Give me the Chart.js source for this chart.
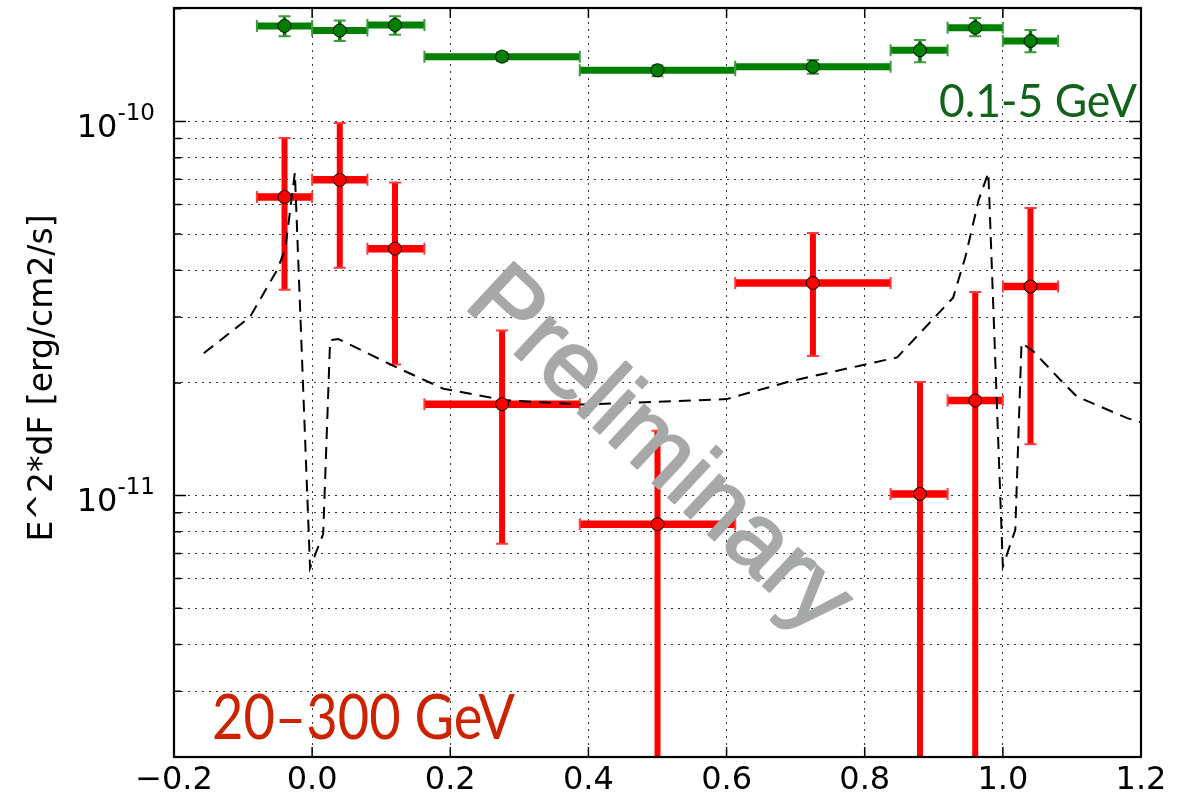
<!DOCTYPE html>
<html>
<head>
<meta charset="utf-8">
<title>Orbital light curve</title>
<script src="https://cdn.jsdelivr.net/npm/chart.js@4.4.1/dist/chart.umd.min.js"></script>
<style>
  html, body { margin: 0; padding: 0; background: #fff; }
  canvas { display: block; }
</style>
</head>
<body>
<canvas id="lc" width="1179" height="803"></canvas>
<script>
// orbital phase bins (centre and edges)
var phase   = [-0.04, 0.04, 0.12, 0.275, 0.5, 0.725, 0.88, 0.96, 1.04];
var phaseLo = [-0.08, 0.0, 0.08, 0.1625, 0.3875, 0.6125, 0.8375, 0.92, 1.0];
var phaseHi = [0.0, 0.08, 0.1625, 0.3875, 0.6125, 0.8375, 0.92, 1.0, 1.08];

// 0.1-5 GeV flux, E^2 dF/dE in erg/cm2/s
var lowE   = [1.80e-10, 1.75e-10, 1.81e-10, 1.49e-10, 1.37e-10, 1.40e-10, 1.55e-10, 1.78e-10, 1.64e-10];
var lowEHi = [1.91e-10, 1.86e-10, 1.91e-10, 1.53e-10, 1.41e-10, 1.46e-10, 1.65e-10, 1.89e-10, 1.755e-10];
var lowELo = [1.69e-10, 1.64e-10, 1.705e-10, 1.45e-10, 1.32e-10, 1.34e-10, 1.44e-10, 1.69e-10, 1.53e-10];

// 20-300 GeV flux (lower bounds of 1e-13 run off the bottom of the plot)
var highE   = [6.28e-11, 6.98e-11, 4.57e-11, 1.755e-11, 8.38e-12, 3.70e-11, 1.01e-11, 1.795e-11, 3.62e-11];
var highEHi = [9.03e-11, 9.9e-11, 6.87e-11, 2.76e-11, 1.49e-11, 5.03e-11, 2.01e-11, 3.50e-11, 5.87e-11];
var highELo = [3.55e-11, 4.06e-11, 2.24e-11, 7.43e-12, 1e-13, 2.36e-11, 1e-13, 1e-13, 1.37e-11];

// model curve
var modelPhase = [-0.157, -0.09, -0.051, -0.039, -0.025, -0.003, 0.016, 0.026, 0.038, 0.12, 0.19, 0.277,
                  0.388, 0.5, 0.6, 0.692, 0.847, 0.928, 0.946, 0.965, 0.979, 1.0, 1.018, 1.027, 1.044,
                  1.083, 1.107, 1.18, 1.2];
var modelFlux  = [2.40e-11, 3.0e-11, 4.0e-11, 4.55e-11, 7.3e-11, 6.4e-12, 7.9e-12, 2.6e-11, 2.62e-11, 2.21e-11, 1.93e-11, 1.80e-11,
                  1.75e-11, 1.78e-11, 1.81e-11, 2.02e-11, 2.34e-11, 3.38e-11, 4.36e-11, 6.17e-11, 7.3e-11, 6.46e-12, 8.1e-12, 2.56e-11, 2.43e-11,
                  2.04e-11, 1.84e-11, 1.61e-11, 1.57e-11];

var yMin = 2.0e-12, yMax = 2.01e-10;
var yGrid = [2e-12, 3e-12, 4e-12, 5e-12, 6e-12, 7e-12, 8e-12, 9e-12,
             1e-11, 2e-11, 3e-11, 4e-11, 5e-11, 6e-11, 7e-11, 8e-11, 9e-11, 1e-10, 2e-10];
var yDecades = [-11, -10];
var xTicks = [-0.2, 0.0, 0.2, 0.4, 0.6, 0.8, 1.0, 1.2];

function pts(xs, ys) {
  return xs.map(function (v, i) { return { x: v, y: ys[i] }; });
}

function drawErrors(ctx, xs, ys, f, lo, hi, st) {
  ctx.strokeStyle = st.color;
  ctx.lineCap = 'butt';
  for (var i = 0; i < f.length; i++) {
    var x0 = xs.getPixelForValue(phaseLo[i]), x1 = xs.getPixelForValue(phaseHi[i]);
    var xc = xs.getPixelForValue(phase[i]);
    var yc = ys.getPixelForValue(f[i]);
    var yt = ys.getPixelForValue(hi[i]), yb = ys.getPixelForValue(lo[i]);
    // phase extent
    ctx.lineWidth = st.hw;
    ctx.beginPath(); ctx.moveTo(x0, yc); ctx.lineTo(x1, yc); ctx.stroke();
    // flux error
    ctx.lineWidth = st.vw;
    ctx.beginPath(); ctx.moveTo(xc, yt); ctx.lineTo(xc, yb); ctx.stroke();
    // caps
    ctx.strokeStyle = st.capColor;
    ctx.lineWidth = 2;
    ctx.beginPath();
    ctx.moveTo(x0, yc - st.cap); ctx.lineTo(x0, yc + st.cap);
    ctx.moveTo(x1, yc - st.cap); ctx.lineTo(x1, yc + st.cap);
    ctx.moveTo(xc - st.cap, yt); ctx.lineTo(xc + st.cap, yt);
    ctx.moveTo(xc - st.cap, yb); ctx.lineTo(xc + st.cap, yb);
    ctx.stroke();
    ctx.strokeStyle = st.color;
  }
}

// draw text squeezed to a given width (the band labels use a narrow face)
function fitText(ctx, text, x, y, width, align) {
  var w = ctx.measureText(text).width;
  var k = width / w;
  ctx.save();
  ctx.translate(align === 'right' ? x - width : x, y);
  ctx.scale(k, 1);
  ctx.textAlign = 'left';
  ctx.fillText(text, 0, 0);
  ctx.restore();
}

var errorBars = {
  id: 'errorBars',
  beforeDraw: function (chart) {
    var ctx = chart.ctx;
    ctx.save();
    ctx.fillStyle = '#fff';
    ctx.fillRect(0, 0, chart.width, chart.height);
    ctx.restore();
  },
  beforeDatasetsDraw: function (chart) {
    var ctx = chart.ctx, a = chart.chartArea;
    ctx.save();
    ctx.beginPath(); ctx.rect(a.left, a.top, a.right - a.left, a.bottom - a.top); ctx.clip();
    drawErrors(ctx, chart.scales.x, chart.scales.y, lowE, lowELo, lowEHi,
      { color: '#008000', capColor: '#3c9a3c', hw: 7, vw: 3.5, cap: 6 });
    drawErrors(ctx, chart.scales.x, chart.scales.y, highE, highELo, highEHi,
      { color: '#ff0000', capColor: '#ff3b3b', hw: 7.5, vw: 6, cap: 6 });
    ctx.restore();
  },
  afterDraw: function (chart) {
    var ctx = chart.ctx, a = chart.chartArea, xs = chart.scales.x, ys = chart.scales.y;
    ctx.save();

    // watermark
    ctx.save();
    ctx.translate(640, 471);
    ctx.rotate(43 * Math.PI / 180);
    ctx.font = '97px "Liberation Sans"';
    ctx.fillStyle = '#a6a9a8';
    ctx.strokeStyle = '#a6a9a8';
    ctx.lineWidth = 2.2;
    ctx.lineJoin = 'round';
    ctx.textAlign = 'center';
    ctx.fillText('Preliminary', 0, 0);
    ctx.strokeText('Preliminary', 0, 0);
    ctx.restore();

    // tick marks pointing inwards, on all four sides
    ctx.strokeStyle = '#000';
    ctx.lineWidth = 1.5;
    ctx.beginPath();
    yGrid.forEach(function (v) {
      var y = ys.getPixelForValue(v);
      var len = yDecades.indexOf(Math.round(Math.log10(v) * 1000) / 1000) >= 0 ? 12 : 7;
      ctx.moveTo(a.left, y); ctx.lineTo(a.left + len, y);
      ctx.moveTo(a.right, y); ctx.lineTo(a.right - len, y);
    });
    xTicks.forEach(function (v) {
      var x = xs.getPixelForValue(v);
      ctx.moveTo(x, a.bottom); ctx.lineTo(x, a.bottom - 10);
      ctx.moveTo(x, a.top); ctx.lineTo(x, a.top + 10);
    });
    ctx.stroke();

    // frame
    ctx.lineWidth = 2.2;
    ctx.strokeRect(a.left, a.top, a.right - a.left, a.bottom - a.top);

    // decade labels 10^n
    ctx.fillStyle = '#000';
    ctx.textBaseline = 'alphabetic';
    yDecades.forEach(function (p) {
      var y = ys.getPixelForValue(Math.pow(10, p));
      var sup = '-' + Math.abs(p);
      ctx.font = '23px "DejaVu Sans"';
      ctx.textAlign = 'right';
      var right = a.left - 19;
      ctx.fillText(sup, right, y - 1.5);
      var w = ctx.measureText(sup).width;
      ctx.font = '32px "DejaVu Sans"';
      ctx.fillText('10', right - w, y + 15.5);
    });

    // axis title
    ctx.save();
    ctx.translate(52, 378);
    ctx.rotate(-Math.PI / 2);
    ctx.textAlign = 'center';
    ctx.textBaseline = 'alphabetic';
    ctx.font = '33px "DejaVu Sans"';
    ctx.fillText('E^2*dF [erg/cm2/s]', 0, 0);
    ctx.restore();

    // band labels
    ctx.font = '47px Lato';
    ctx.fillStyle = '#12621c';
    fitText(ctx, '0.1-5 GeV', 1137, 117, 198, 'right');

    ctx.font = '61px Lato';
    ctx.fillStyle = '#cc2200';
    fitText(ctx, '20\u2013300 GeV', 212, 739, 303, 'left');

    ctx.restore();
  }
};

var gridStyle = { color: '#333', lineWidth: 1, drawTicks: false };

new Chart(document.getElementById('lc'), {
  type: 'scatter',
  data: {
    datasets: [
      {
        label: '20-300 GeV',
        data: pts(phase, highE),
        backgroundColor: '#ff0000',
        borderColor: '#000',
        borderWidth: 1,
        pointRadius: 6.5,
        order: 1
      },
      {
        label: '0.1-5 GeV',
        data: pts(phase, lowE),
        backgroundColor: '#008000',
        borderColor: '#000',
        borderWidth: 1,
        pointRadius: 6.5,
        order: 1
      },
      {
        type: 'line',
        label: 'model',
        data: pts(modelPhase, modelFlux),
        borderColor: '#000',
        borderWidth: 2,
        borderDash: [12, 8],
        pointRadius: 0,
        fill: false,
        tension: 0,
        order: 3
      }
    ]
  },
  options: {
    responsive: false,
    animation: false,
    devicePixelRatio: 1,
    layout: { padding: { top: 8, right: 38, left: 0, bottom: 0 } },
    plugins: { legend: { display: false }, tooltip: { enabled: false } },
    scales: {
      x: {
        type: 'linear',
        min: -0.2,
        max: 1.2,
        afterBuildTicks: function (s) { s.ticks = xTicks.map(function (v) { return { value: v }; }); },
        afterFit: function (s) { s.height = 46; },
        ticks: {
          color: '#000',
          font: { family: 'DejaVu Sans', size: 32 },
          padding: 4,
          maxRotation: 0,
          callback: function (v) { return (v < 0 ? '\u2212' : '') + Math.abs(v).toFixed(1); }
        },
        grid: gridStyle,
        border: { display: false, dash: [2, 5] }
      },
      y: {
        type: 'logarithmic',
        min: yMin,
        max: yMax,
        afterBuildTicks: function (s) { s.ticks = yGrid.map(function (v) { return { value: v }; }); },
        afterFit: function (s) { s.width = 174; },
        ticks: { display: false },
        grid: gridStyle,
        border: { display: false, dash: [2, 5] }
      }
    }
  },
  plugins: [errorBars]
});
</script>
</body>
</html>
